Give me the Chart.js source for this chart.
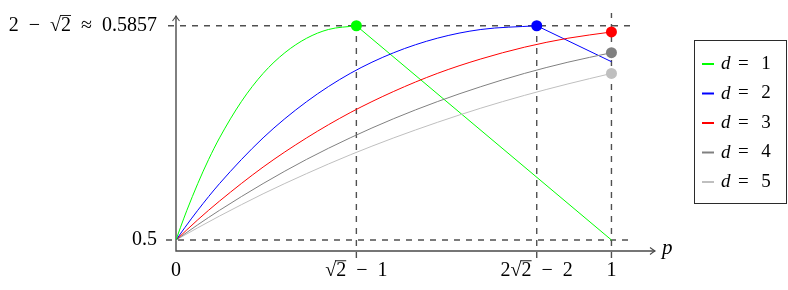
<!DOCTYPE html>
<html>
<head>
<meta charset="utf-8">
<script src="https://cdn.jsdelivr.net/npm/chart.js@4.4.0/dist/chart.umd.min.js"></script>
<style>
	body { margin: 0; background: #fff; }
	#wrap { width: 788px; height: 290px; }
</style>
</head>
<body>
<div id="wrap"><canvas id="chart"></canvas></div>
<script>
"use strict";

// values
const seriesLabels = ['d = 1', 'd = 2', 'd = 3', 'd = 4', 'd = 5'];
const seriesColors = ['#00ff00', '#0000ff', '#ff0000', '#808080', '#bfbfbf'];

const p1 = [0, 0.01, 0.025, 0.05, 0.075, 0.1, 0.15, 0.2, 0.25, 0.3, 0.35, 0.4142];
const d1 = [0.5, 0.5049, 0.5119, 0.5226, 0.5323, 0.5409, 0.5554, 0.5667, 0.575, 0.5808, 0.5843, 0.5858];

const p2 = [0, 0.02, 0.05, 0.1, 0.2, 0.3, 0.4, 0.5, 0.6, 0.7, 0.8284];
const d2 = [0.5, 0.5049, 0.5119, 0.5226, 0.5409, 0.5554, 0.5667, 0.575, 0.5808, 0.5843, 0.5858];

const pGrid = [0, 0.05, 0.1, 0.2, 0.3, 0.4, 0.5, 0.6, 0.7, 0.8, 0.9, 1];
const d3 = [0.5, 0.5081, 0.5156, 0.5292, 0.5409, 0.551, 0.5595, 0.5667, 0.5725, 0.5772, 0.5808, 0.5833];
const d4 = [0.5, 0.5061, 0.5119, 0.5226, 0.5323, 0.5409, 0.5486, 0.5554, 0.5614, 0.5667, 0.5712, 0.575];
const d5 = [0.5, 0.5049, 0.5096, 0.5185, 0.5266, 0.5341, 0.5409, 0.5471, 0.5528, 0.5579, 0.5625, 0.5667];

// straight pieces after the maximum
const tail1P = [0.4142, 1];
const tail1 = [0.5858, 0.5];
const tail2P = [0.8284, 1];
const tail2 = [0.5858, 0.5714];

const xTicks = [0, 0.4142, 0.8284, 1];
const xTickLabels = ['0', '√2  −  1', '2√2  −  2', '1'];
const yTicks = [0.5, 0.5858];
const yTickLabels = ['0.5', '2  −  √2  ≈  0.5857'];

const SERIF = "'Liberation Serif', 'DejaVu Serif', serif";
const GUIDE = '#505050';
const AXIS = '#4a4a4a';

function pts(xs, ys) {
	return xs.map((x, i) => ({x: x, y: ys[i]}));
}

function curve(i, xs, ys) {
	return {
		label: seriesLabels[i],
		data: pts(xs, ys),
		borderColor: seriesColors[i],
		backgroundColor: seriesColors[i],
		borderWidth: 1,
		cubicInterpolationMode: 'monotone',
		pointRadius: ctx => ctx.index === ys.length - 1 ? 5.5 : 0,
		pointBorderWidth: 0,
		pointHoverRadius: 5.5
	};
}

function tail(i, xs, ys) {
	return {
		label: seriesLabels[i] + ' tail',
		data: pts(xs, ys),
		borderColor: seriesColors[i],
		borderWidth: 1,
		tension: 0,
		pointRadius: 0
	};
}

function arrow(ctx, x, y, dir) {
	ctx.beginPath();
	if (dir === 'up') {
		ctx.moveTo(x - 3.5, y + 5);
		ctx.quadraticCurveTo(x - 0.8, y + 1.5, x, y);
		ctx.quadraticCurveTo(x + 0.8, y + 1.5, x + 3.5, y + 5);
	} else {
		ctx.moveTo(x - 5, y - 3.5);
		ctx.quadraticCurveTo(x - 1.5, y - 0.8, x, y);
		ctx.quadraticCurveTo(x - 1.5, y + 0.8, x - 5, y + 3.5);
	}
	ctx.stroke();
}

const guides = {
	id: 'guides',
	beforeDatasetsDraw(chart) {
		const {ctx, chartArea: a, scales: {x, y}} = chart;
		ctx.save();
		ctx.strokeStyle = GUIDE;
		ctx.lineWidth = 1.4;
		ctx.setLineDash([6, 6]);
		const xEnd = x.getPixelForValue(1.05);
		const yLow = y.getPixelForValue(yTicks[0]);
		const yTop = y.getPixelForValue(yTicks[1]);
		ctx.beginPath();
		ctx.moveTo(166, yLow);
		ctx.lineTo(xEnd, yLow);
		ctx.moveTo(168, yTop);
		ctx.lineTo(xEnd, yTop);
		ctx.stroke();
		ctx.beginPath();
		for (const v of xTicks.slice(1)) {
			const px = x.getPixelForValue(v);
			ctx.moveTo(px, a.bottom + 7);
			ctx.lineTo(px, v === 1 ? a.top - 3 : yTop);
		}
		ctx.stroke();

		// axes with arrows
		ctx.setLineDash([]);
		ctx.strokeStyle = AXIS;
		ctx.lineWidth = 1.4;
		ctx.beginPath();
		ctx.moveTo(a.left, a.bottom + 0.7);
		ctx.lineTo(a.left, a.top);
		ctx.moveTo(a.left, a.bottom);
		ctx.lineTo(a.right, a.bottom);
		ctx.stroke();
		ctx.lineWidth = 1.1;
		arrow(ctx, a.left, a.top, 'up');
		arrow(ctx, a.right, a.bottom, 'right');
		ctx.restore();
	},
	afterDraw(chart) {
		const {ctx, chartArea: a} = chart;
		ctx.save();
		// axis name
		ctx.fillStyle = '#000';
		ctx.font = 'italic 21px ' + SERIF;
		ctx.textBaseline = 'middle';
		ctx.fillText('p', a.right + 7, a.bottom - 3);

		// overline of the square roots in tick labels
		ctx.strokeStyle = '#000';
		ctx.lineWidth = 0.9;
		for (const s of [chart.scales.x, chart.scales.y]) {
			for (const it of s.getLabelItems(a)) {
				const lab = String(it.label);
				const k = lab.indexOf('√');
				if (k < 0) continue;
				const o = it.options;
				ctx.font = it.font.string;
				ctx.textBaseline = o.textBaseline;
				const w = ctx.measureText(lab).width;
				let left = o.translation[0];
				if (o.textAlign === 'right') left -= w;
				else if (o.textAlign === 'center') left -= w / 2;
				const base = o.translation[1] + it.textOffset;
				const m = ctx.measureText('√');
				const top = base - m.actualBoundingBoxAscent + 0.5;
				const x0 = left + ctx.measureText(lab.slice(0, k + 1)).width - 1;
				const x1 = left + ctx.measureText(lab.slice(0, k + 2)).width;
				ctx.beginPath();
				ctx.moveTo(x0, top);
				ctx.lineTo(x1, top);
				ctx.stroke();
			}
		}

		// legend box
		const bx = 694.5, by = 40.5, bw = 92, bh = 163;
		ctx.strokeStyle = '#2b2b2b';
		ctx.lineWidth = 1;
		ctx.strokeRect(bx, by, bw, bh);
		seriesLabels.forEach((lab, i) => {
			const cy = 64 + i * 29.5;
			ctx.strokeStyle = seriesColors[i];
			ctx.lineWidth = 2;
			ctx.beginPath();
			ctx.moveTo(702, cy);
			ctx.lineTo(714, cy);
			ctx.stroke();
			ctx.fillStyle = '#000';
			ctx.textBaseline = 'middle';
			ctx.font = 'italic 19px ' + SERIF;
			ctx.fillText(lab.slice(0, 1), 721, cy);
			ctx.font = '19px ' + SERIF;
			ctx.fillText('=', 738, cy);
			ctx.textAlign = 'center';
			ctx.fillText(lab.slice(4), 766, cy);
			ctx.textAlign = 'left';
		});
		ctx.restore();
	}
};

const ctx = document.querySelector('#chart').getContext('2d');
new Chart(ctx, {
	type: 'line',
	data: {
		datasets: [
			curve(0, p1, d1),
			curve(1, p2, d2),
			curve(2, pGrid, d3),
			curve(3, pGrid, d4),
			curve(4, pGrid, d5),
			tail(0, tail1P, tail1),
			tail(1, tail2P, tail2)
		]
	},
	options: {
		responsive: true,
		maintainAspectRatio: false,
		animation: false,
		layout: { padding: { left: 0, right: 133, top: 15, bottom: 0 } },
		plugins: { legend: { display: false }, tooltip: { enabled: false } },
		scales: {
			x: {
				type: 'linear',
				min: 0,
				max: 1.1,
				grid: { display: false },
				border: { display: false },
				afterFit: s => { s.height = 39; },
				afterBuildTicks: s => { s.ticks = xTicks.map(v => ({value: v})); },
				ticks: {
					autoSkip: false,
					maxRotation: 0,
					padding: 0,
					color: '#000',
					font: { family: SERIF, size: 20 },
					callback: (v, i) => xTickLabels[i]
				}
			},
			y: {
				min: 0.4956,
				max: 0.5897,
				grid: { display: false },
				border: { display: false },
				afterFit: s => { s.width = 176; },
				afterBuildTicks: s => { s.ticks = yTicks.map(v => ({value: v})); },
				ticks: {
					padding: 11,
					color: '#000',
					font: { family: SERIF, size: 20, lineHeight: 0.5 },
					callback: (v, i) => yTickLabels[i]
				}
			}
		}
	},
	plugins: [guides]
});
</script>
</body>
</html>
